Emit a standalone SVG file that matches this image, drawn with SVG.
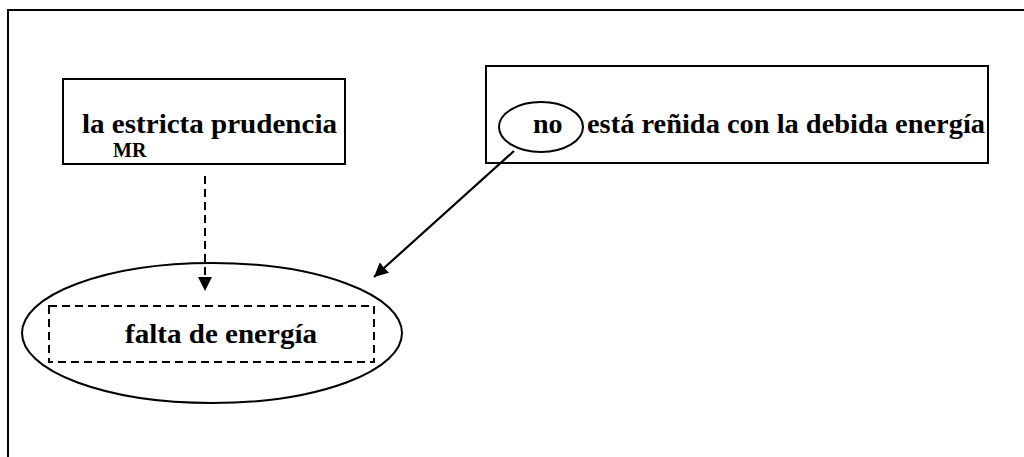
<svg xmlns="http://www.w3.org/2000/svg" width="1024" height="457" viewBox="0 0 1024 457">
<style>
  .t { font-weight: 700; fill: #000; }
  .box { fill: #fff; stroke: #000; stroke-width: 2; }
  .ell { fill: none; stroke: #000; stroke-width: 2; }
  .dash { fill: none; stroke: #000; stroke-width: 2; stroke-dasharray: 8 5; }
  .conn { fill: none; stroke: #000; stroke-width: 2.2; }
</style>
<defs>
  <marker id="ah" markerUnits="userSpaceOnUse" markerWidth="16" markerHeight="16" refX="14" refY="7" orient="auto">
    <path d="M0,0 L14,7 L0,14 Z" fill="#000"/>
  </marker>
</defs>
<rect width="1024" height="457" fill="#fff"/>
<g id="frame">
  <path d="M8,457 L8,10 L1024,10" fill="none" stroke="#000" stroke-width="2"/>
</g>
<g id="node-prudencia" font-family="Liberation Serif, DejaVu Serif, serif">
  <rect class="box" x="63" y="79" width="282" height="85"/>
  <text class="t" x="82" y="133" font-size="28" textLength="255" lengthAdjust="spacingAndGlyphs">la estricta prudencia</text>
  <text class="t" x="113" y="157" font-size="20">MR</text>
</g>
<g id="node-renida" font-family="Liberation Serif, DejaVu Serif, serif">
  <rect class="box" x="486" y="66" width="502" height="97"/>
  <ellipse class="ell" cx="541" cy="127" rx="42" ry="25"/>
  <text class="t" x="533" y="133" font-size="28">no</text>
  <text class="t" x="587" y="133" font-size="28" textLength="398" lengthAdjust="spacingAndGlyphs">está reñida con la debida energía</text>
</g>
<g id="node-falta" font-family="Liberation Serif, DejaVu Serif, serif">
  <ellipse class="ell" cx="212" cy="333" rx="190" ry="70"/>
  <rect class="dash" x="49" y="306" width="325" height="56"/>
  <text class="t" x="125" y="343" font-size="28" textLength="192" lengthAdjust="spacingAndGlyphs">falta de energía</text>
</g>
<g id="connectors">
  <line class="dash" x1="205" y1="176" x2="205" y2="278"/>
  <path d="M198,277 L212,277 L205,291 Z" fill="#000"/>
  <line class="conn" x1="514" y1="151" x2="374" y2="277" marker-end="url(#ah)"/>
</g>
</svg>
